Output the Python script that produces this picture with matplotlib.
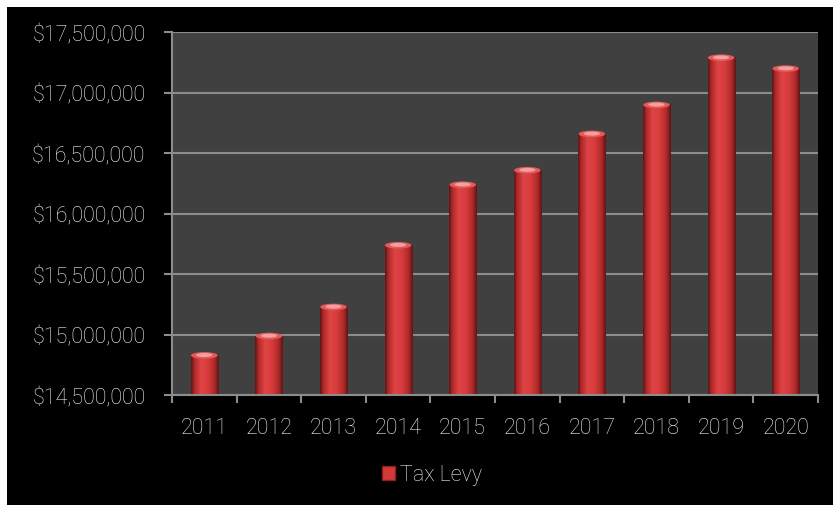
import numpy as np
import matplotlib.pyplot as plt
from matplotlib.patches import Ellipse, Rectangle
from matplotlib.colors import LinearSegmentedColormap

years = ['2011', '2012', '2013', '2014', '2015', '2016', '2017', '2018', '2019', '2020']
tax_levy = [14855000, 15015000, 15255000, 15765000, 16265000,
            16385000, 16685000, 16925000, 17315000, 17225000]
y_ticks = [14500000, 15000000, 15500000, 16000000, 16500000, 17000000, 17500000]

plt.rcParams['font.family'] = ['Roboto', 'DejaVu Sans']

W, H = 834, 506
fig = plt.figure(figsize=(W / 100, H / 100), dpi=100, facecolor='white')
# black panel behind the chart
fig.patches.append(Rectangle((7 / W, 0), 826 / W, 498 / H, transform=fig.transFigure,
                             facecolor='black', edgecolor='none', zorder=-10))

ax = fig.add_axes([172 / W, 110 / H, 646 / W, 363 / H])
ax.set_facecolor('#404040')

# cylinder shading across the bar width
cyl = LinearSegmentedColormap.from_list('cyl', [
    (0.0, '#5e1414'), (0.12, '#b02a2a'), (0.35, '#e04444'),
    (0.6, '#d83b3b'), (0.85, '#b02a2a'), (1.0, '#5e1414')])
grad = np.linspace(0, 1, 64).reshape(1, -1)

ymin, ymax = y_ticks[0], y_ticks[-1]
bw = 0.42
cap_h = 55000
for i, v in enumerate(tax_levy):
    ax.imshow(grad, extent=[i - bw / 2, i + bw / 2, ymin, v - cap_h / 2],
              aspect='auto', cmap=cyl, interpolation='bicubic', zorder=2)
    ax.add_patch(Ellipse((i, v - cap_h / 2), bw * 0.98, cap_h,
                         facecolor='#e35a5a', edgecolor='none', zorder=3))
    ax.add_patch(Ellipse((i, v - cap_h * 0.45), bw * 0.6, cap_h * 0.6,
                         facecolor='#f0a0a0', edgecolor='none', zorder=3))

ax.set_xlim(-0.5, len(years) - 0.5)
ax.set_ylim(ymin, ymax)

ax.set_yticks(y_ticks)
ax.set_yticklabels(['${:,.0f}'.format(t) for t in y_ticks])
ax.set_xticks(range(len(years)))
ax.set_xticklabels(years)
ax.set_xticks(np.arange(-0.5, len(years), 1), minor=True)

grid_c = '#8c8c8c'
ax.yaxis.grid(True, color=grid_c, linewidth=1.5)
ax.set_axisbelow(True)
for side in ['top', 'right']:
    ax.spines[side].set_visible(False)
for side in ['left', 'bottom']:
    ax.spines[side].set_color(grid_c)
    ax.spines[side].set_linewidth(1.5)

txt_c = '#f2f2f2'
ax.tick_params(axis='y', length=6, width=1.5, color=grid_c, pad=13,
               labelsize=15.5, labelcolor=txt_c)
ax.tick_params(axis='x', which='major', length=0, pad=16,
               labelsize=15.5, labelcolor=txt_c)
ax.tick_params(axis='x', which='minor', length=6, width=1.5, color=grid_c)
for lbl in ax.get_xticklabels() + ax.get_yticklabels():
    lbl.set_fontweight('light')

handle = Rectangle((0, 0), 1, 1, facecolor='#d23a3a', edgecolor='#8a2020')
leg = fig.legend([handle], ['Tax Levy'], loc='center',
                 bbox_to_anchor=(432 / W, 1 - 476 / H), frameon=False,
                 fontsize=15.5, labelcolor=txt_c, handlelength=0.6,
                 handleheight=0.6, handletextpad=0.25)
for t in leg.get_texts():
    t.set_fontweight('light')

fig.savefig('out.png', dpi=100, facecolor=fig.get_facecolor())
